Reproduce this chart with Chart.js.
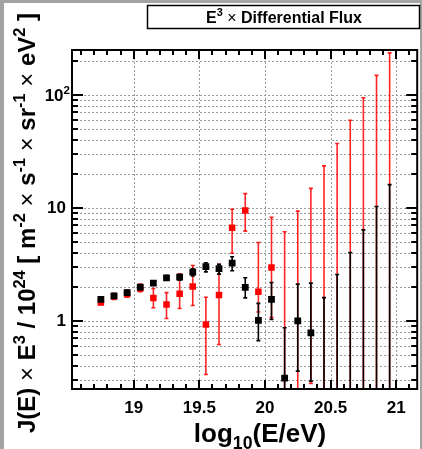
<!DOCTYPE html>
<html><head><meta charset="utf-8">
<script src="https://cdn.jsdelivr.net/npm/chart.js@4/dist/chart.umd.min.js"></script>
<style>html,body{margin:0;padding:0;background:#fff;}canvas{display:block}</style>
</head><body><canvas id="c" width="422" height="449"></canvas>
<script>
// ---------------- DATA ----------------
const energies = [18.75,18.85,18.95,19.05,19.15,19.25,19.35,19.45,19.55,19.65,19.75,19.85,19.95,20.05,20.15,20.25,20.35,20.45,20.55,20.65,20.75,20.85,20.95];
// black series
const blackValues = [1.55,1.67,1.78,1.99,2.16,2.41,2.44,2.70,3.02,2.90,3.25,1.98,1.01,1.55,0.312,1.00,0.786,null,null,null,null,null,null];
const blackLow    = [1.50,1.61,1.71,1.90,2.07,2.30,2.30,2.50,2.72,2.60,2.78,1.60,0.67,1.03,0.10,0.36,0.293,0.10,0.10,0.10,0.10,0.10,0.10];
const blackHigh   = [1.60,1.73,1.86,2.08,2.25,2.52,2.58,2.90,3.27,3.18,3.70,2.41,1.43,2.19,0.87,2.12,2.16,1.61,2.58,4.04,6.40,10.3,16.1];
// red series
const redValues = [1.46,1.65,1.72,1.94,1.60,1.40,1.74,2.02,0.93,1.70,6.68,9.50,1.81,2.97,null,null,null,null,null,null,null,null,null];
const redLow    = [1.40,1.55,1.62,1.82,1.31,1.05,1.29,1.37,0.336,0.62,3.98,6.24,1.20,1.07,0.10,0.10,0.28,0.10,0.10,0.10,0.10,0.10,0.10];
const redHigh   = [1.53,1.76,1.88,2.12,1.94,1.78,2.62,3.10,1.62,3.18,9.75,13.4,4.95,8.25,6.16,9.38,14.9,23.6,37.2,59.8,94.4,149,236];
// axes
const xMin = 18.53, xMax = 21.16;
const yMin = 0.25, yMax = 250;
const xTickValues = [19,19.5,20,20.5,21];
const xTickLabels = ['19','19.5','20','20.5','21'];
const xMinorStep = 0.1;
const yTickValues = [0.3,0.4,0.5,0.6,0.7,0.8,0.9,1,2,3,4,5,6,7,8,9,10,20,30,40,50,60,70,80,90,100,200];
const yMajorValues = [1,10,100];
const yTickLabels = ['1','10',''];
const yTopLabelSegs = [{t:'10',b:1},{t:'2',b:1,sup:1}];
// texts
const titleSegs = [{t:'E',b:1},{t:'3',b:1,sup:1},{t:' × ',b:0},{t:'Differential Flux',b:1}];
const xTitleSegs = [{t:'log',b:1},{t:'10',b:1,sub:1},{t:'(E/eV)',b:1}];
const yTitleSegs = [{t:'J(E) ',b:1},{t:'×',b:0},{t:' E',b:1},{t:'3',b:1,sup:1},{t:' / 10',b:1},{t:'24',b:1,sup:1},
  {t:' [ m',b:1},{t:'-2',b:1,sup:1},{t:' ',b:1},{t:'×',b:0},{t:' s',b:1},{t:'-1',b:1,sup:1},{t:' ',b:1},{t:'×',b:0},
  {t:' sr',b:1},{t:'-1',b:1,sup:1},{t:' ',b:1},{t:'×',b:0},{t:' eV',b:1},{t:'2',b:1,sup:1},{t:' ]',b:1}];

// ---------------- HELPERS ----------------
const FONT = '"Liberation Sans", Arial, Helvetica, sans-serif';
function segFont(s, size){ const sz = (s.sup||s.sub) ? size*0.68 : size; return (s.b?'bold ':'') + sz + 'px ' + FONT; }
function richWidth(ctx, segs, size){ let w=0; segs.forEach(s=>{ctx.font=segFont(s,size); w+=ctx.measureText(s.t).width;}); return w; }
function drawRich(ctx, segs, cx, baseY, size, align){
  const w = richWidth(ctx, segs, size);
  let x = align==='right' ? cx - w : cx - w/2;
  ctx.textAlign='left'; ctx.textBaseline='alphabetic'; ctx.fillStyle='#000';
  segs.forEach(s=>{ ctx.font=segFont(s,size); let y=baseY; if(s.sup) y-=size*0.42; if(s.sub) y+=size*0.28;
    ctx.fillText(s.t, x, y); x+=ctx.measureText(s.t).width; });
}
function toPts(vals){ return energies.map((e,i)=>({x:e, y:vals[i]})); }

const errorBars = {
  id:'errorBars',
  beforeDatasetDraw(chart, args){
    const ds = chart.data.datasets[args.index];
    const xs = chart.scales.x, ys = chart.scales.y, a = chart.chartArea, ctx = chart.ctx;
    ctx.save(); ctx.beginPath(); ctx.rect(a.left, a.top, a.right-a.left, a.bottom-a.top); ctx.clip();
    ctx.strokeStyle = ds.errColor; ctx.lineWidth = 1.6;
    energies.forEach((e,i)=>{
      const px = xs.getPixelForValue(e);
      const lo = ys.getPixelForValue(ds.errLow[i]), hi = ys.getPixelForValue(ds.errHigh[i]);
      ctx.beginPath(); ctx.moveTo(px, lo); ctx.lineTo(px, hi); ctx.stroke();
      ctx.beginPath(); ctx.moveTo(px-2, hi); ctx.lineTo(px+2, hi);
      if (ds.errLow[i] > yMin) { ctx.moveTo(px-2, lo); ctx.lineTo(px+2, lo); }
      ctx.stroke();
    });
    ctx.restore();
  }
};

const frame = {
  id:'frame',
  beforeDraw(chart){
    const ctx = chart.ctx;
    ctx.save(); ctx.fillStyle='#fff'; ctx.fillRect(0,0,422,449);
    ctx.fillStyle='#a3a3a3'; ctx.fillRect(0,0,4,449); ctx.fillRect(0,0,422,3); ctx.fillRect(420,0,2,449);
    ctx.restore();
  },
  beforeDatasetsDraw(chart){
    const ctx = chart.ctx, a = chart.chartArea, xs = chart.scales.x, ys = chart.scales.y;
    ctx.save(); ctx.strokeStyle='#9a9a9a'; ctx.lineWidth=1; ctx.setLineDash([2,2]);
    yTickValues.forEach(v=>{ const y=Math.round(ys.getPixelForValue(v))+0.5; ctx.beginPath(); ctx.moveTo(a.left,y); ctx.lineTo(a.right,y); ctx.stroke(); });
    xTickValues.forEach(v=>{ const x=Math.round(xs.getPixelForValue(v))+0.5; ctx.beginPath(); ctx.moveTo(x,a.top); ctx.lineTo(x,a.bottom); ctx.stroke(); });
    ctx.restore();
  },
  afterDraw(chart){
    const ctx = chart.ctx, a = chart.chartArea, xs = chart.scales.x, ys = chart.scales.y;
    ctx.save(); ctx.strokeStyle='#000'; ctx.lineWidth=2;
    ctx.strokeRect(a.left, a.top, a.right-a.left, a.bottom-a.top);
    ctx.beginPath();
    for (let k=Math.ceil(xMin/xMinorStep); k*xMinorStep<=xMax; k++){
      const v = k*xMinorStep; const x = Math.round(xs.getPixelForValue(v));
      const major = xTickValues.some(t=>Math.abs(t-v)<1e-6); const L = major?9:5;
      ctx.moveTo(x, a.bottom); ctx.lineTo(x, a.bottom-L); ctx.moveTo(x, a.top); ctx.lineTo(x, a.top+L);
    }
    yTickValues.forEach(v=>{
      const y = Math.round(ys.getPixelForValue(v)); const L = yMajorValues.includes(v)?11:6;
      ctx.moveTo(a.left, y); ctx.lineTo(a.left+L, y); ctx.moveTo(a.right, y); ctx.lineTo(a.right-L, y);
    });
    ctx.stroke();
    // 10^2 tick label
    drawRich(ctx, yTopLabelSegs, a.left-2, ys.getPixelForValue(100)+6, 17, 'right');
    // title box
    ctx.lineWidth=1.5; ctx.strokeRect(147.5, 5.5, 272, 23);
    drawRich(ctx, titleSegs, 284, 23, 16);
    // x title
    drawRich(ctx, xTitleSegs, 260, 442, 26);
    // y title
    ctx.translate(35, 223); ctx.rotate(-Math.PI/2);
    drawRich(ctx, yTitleSegs, 0, 0, 24);
    ctx.restore();
  }
};

new Chart(document.getElementById('c'), {
  type:'scatter',
  data:{ datasets:[
    { label:'black', data:toPts(blackValues), errLow:blackLow, errHigh:blackHigh, errColor:'#000',
      backgroundColor:'#000', borderColor:'#000', pointStyle:'rect', pointRadius:4.8, borderWidth:0 },
    { label:'red', data:toPts(redValues), errLow:redLow, errHigh:redHigh, errColor:'rgba(255,0,0,0.85)',
      backgroundColor:'#ff0000', borderColor:'#ff0000', pointStyle:'rect', pointRadius:4.6, borderWidth:0 }
  ]},
  options:{
    responsive:false, animation:false, devicePixelRatio:1,
    layout:{ padding:{ left:0, top:50, right:2, bottom:0 } },
    plugins:{ legend:{display:false}, tooltip:{enabled:false}, title:{display:false} },
    scales:{
      x:{ type:'linear', min:xMin, max:xMax,
        grid:{display:false, drawTicks:false}, border:{display:false},
        afterBuildTicks:s=>{ s.ticks = xTickValues.map(v=>({value:v})); },
        afterFit:s=>{ s.height = 60; },
        ticks:{ autoSkip:false, maxRotation:0, padding:9, color:'#000', font:{family:FONT, size:17, weight:'bold'},
          callback:(v)=>{ const i = xTickValues.findIndex(t=>Math.abs(t-v)<1e-6); return i>=0 ? xTickLabels[i] : ''; } } },
      y:{ type:'logarithmic', min:yMin, max:yMax,
        grid:{display:false, drawTicks:false}, border:{display:false},
        afterBuildTicks:s=>{ s.ticks = yTickValues.map(v=>({value:v})); },
        afterFit:s=>{ s.width = 72; },
        ticks:{ autoSkip:false, padding:6, color:'#000', font:{family:FONT, size:17, weight:'bold'},
          callback:(v)=>{ const i = yMajorValues.findIndex(t=>Math.abs(t-v)<1e-9); return i>=0 ? yTickLabels[i] : ''; } } }
    }
  },
  plugins:[frame, errorBars]
});
</script></body></html>
